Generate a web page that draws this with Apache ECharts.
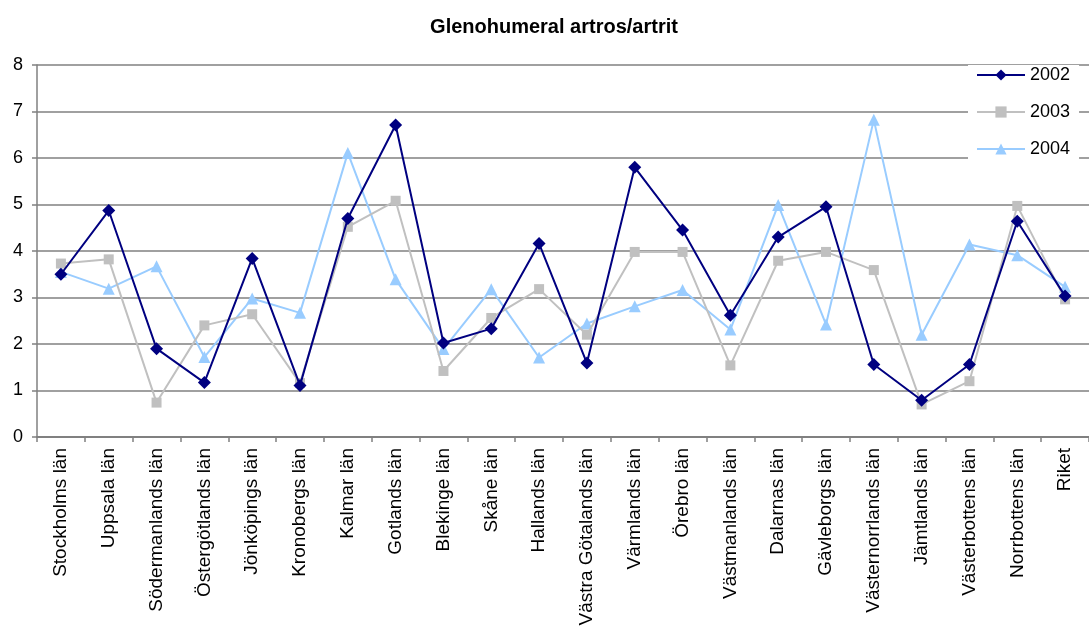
<!DOCTYPE html>
<html>
<head>
<meta charset="utf-8">
<script src="https://cdn.jsdelivr.net/npm/echarts@6/dist/echarts.min.js"></script>
<style>
html,body{margin:0;padding:0;background:#fff;}
#chart{width:1089px;height:630px;}
</style>
</head>
<body>
<div id="chart"></div>
<script>
const categories = ["Stockholms län","Uppsala län","Södermanlands län","Östergötlands län","Jönköpings län","Kronobergs län","Kalmar län","Gotlands län","Blekinge län","Skåne län","Hallands län","Västra Götalands län","Värmlands län","Örebro län","Västmanlands län","Dalarnas län","Gävleborgs län","Västernorrlands län","Jämtlands län","Västerbottens län","Norrbottens län","Riket"];
const values2002 = [3.50,4.87,1.90,1.17,3.84,1.11,4.70,6.71,2.02,2.33,4.16,1.59,5.80,4.45,2.62,4.30,4.95,1.56,0.79,1.56,4.64,3.03];
const values2003 = [3.73,3.82,0.74,2.40,2.64,1.16,4.52,5.08,1.42,2.56,3.18,2.20,3.98,3.98,1.54,3.79,3.98,3.59,0.70,1.20,4.97,2.96];
const values2004 = [3.55,3.19,3.67,1.72,2.98,2.67,6.11,3.39,1.89,3.18,1.71,2.44,2.81,3.16,2.31,4.99,2.42,6.82,2.20,4.14,3.91,3.23];
const seriesNames = ["2002","2003","2004"];
const yTicks = {min:0, max:8, interval:1};

const chart = echarts.init(document.getElementById('chart'), null, {renderer:'canvas'});
const font = 'Liberation Sans, Arial, sans-serif';
chart.setOption({
  animation:false,
  backgroundColor:'#fff',
  title:{
    text:'Glenohumeral artros/artrit',
    left:549, top:12, textAlign:'center',
    textStyle:{fontFamily:font,fontSize:20,fontWeight:'bold',color:'#000'}
  },
  legend:{
    orient:'vertical',
    left:968, top:65,
    padding:[1,9,12,8],
    itemGap:19,
    itemWidth:48, itemHeight:14,
    backgroundColor:'#fff',
    textStyle:{fontFamily:font,fontSize:18,color:'#000'},
    data:seriesNames
  },
  grid:{left:37, top:65, height:372, width:1062, containLabel:false},
  xAxis:{
    type:'category',
    data:categories,
    boundaryGap:true,
    axisLine:{lineStyle:{color:'#808080',width:2}},
    axisTick:{show:true,length:5,lineStyle:{color:'#808080',width:1.5},alignWithLabel:false},
    axisLabel:{rotate:90,margin:11,fontFamily:font,fontSize:19,color:'#000',interval:0}
  },
  yAxis:{
    type:'value',
    min:yTicks.min, max:yTicks.max, interval:yTicks.interval,
    axisLine:{show:true,lineStyle:{color:'#808080',width:1.5}},
    axisTick:{show:true,length:5,lineStyle:{color:'#808080',width:1.5}},
    axisLabel:{margin:14,fontFamily:font,fontSize:18,color:'#000'},
    splitLine:{show:true,lineStyle:{color:'#808080',width:1.5}}
  },
  series:[
    {name:seriesNames[0],type:'line',data:values2002,symbol:'diamond',symbolSize:13,
     lineStyle:{color:'#000080',width:2},itemStyle:{color:'#000080'},z:4},
    {name:seriesNames[1],type:'line',data:values2003,symbol:'rect',symbolSize:10,
     lineStyle:{color:'#c0c0c0',width:2},itemStyle:{color:'#c0c0c0'},z:3},
    {name:seriesNames[2],type:'line',data:values2004,symbol:'triangle',symbolSize:12,
     lineStyle:{color:'#99ccff',width:2},itemStyle:{color:'#99ccff'},z:2}
  ]
});
</script>
</body>
</html>
